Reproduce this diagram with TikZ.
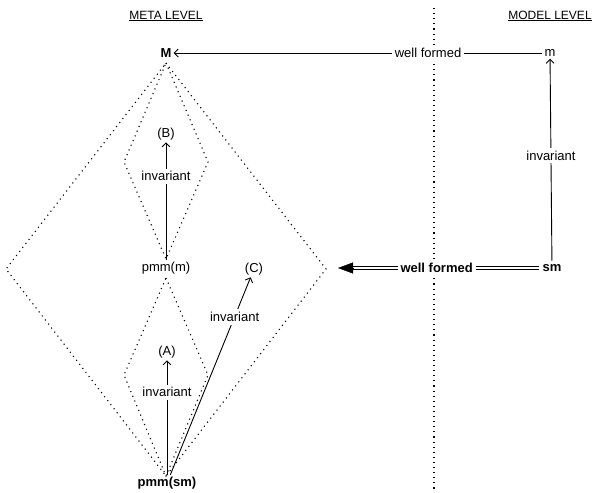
\documentclass[tikz,border=0pt]{standalone}
\usepackage{fontspec}
\setmainfont{Liberation Sans}
\usetikzlibrary{arrows.meta}
\begin{document}
\begin{tikzpicture}[x=1pt,y=-1pt,
  lbl/.style={font=\fontsize{13}{15}\selectfont, inner sep=2pt},
  ttl/.style={font=\fontsize{12}{14}\selectfont, inner sep=0pt},
  edgelbl/.style={lbl, fill=white, inner sep=3pt},
  dotline/.style={line width=1.1pt, dash pattern=on 1.1pt off 4pt},
  conn/.style={line width=0.9pt, -{Straight Barb[length=4pt,width=8pt]}},
  dbl/.style={double, double distance=2.2pt, line width=0.8pt},
  bigtip/.style={-{Triangle[length=15pt,width=11pt]}}]
\useasboundingbox (0,0) rectangle (595,493);
% titles
\node[ttl] (t1) at (166,16) {\underline{META LEVEL}};
\node[ttl] (t2) at (550,16) {\underline{MODEL LEVEL}};
% separator
\coordinate (sepTop) at (434,8);
\coordinate (sepBot) at (434,493);
\draw[dotline] (sepTop) -- (sepBot);
% diamonds
\coordinate (Dt) at (166,63);
\coordinate (Db) at (166,476);
\draw[dotline] (Dt) -- (326,269) -- (Db) -- (6,269) -- cycle;
\draw[dotline] (Dt) -- (208,162) -- (166,259) -- (124,162) -- cycle;
\draw[dotline] (166,278) -- (208,375) -- (Db) -- (124,375) -- cycle;
% nodes
\node[lbl] (M) at (166,53) {\bfseries M};
\node[lbl] (m) at (550,53) {m};
\node[lbl, inner sep=3.5pt] (sm) at (552,268) {\bfseries sm};
\node[lbl] (pmmm) at (166,268) {pmm(m)};
\node[lbl] (pmmsm) at (167,483) {\bfseries pmm(sm)};
\node[lbl] (A) at (167,352) {(A)};
\node[lbl] (B) at (166,134) {(B)};
\node[lbl] (C) at (254,269) {(C)};
\coordinate (shaftEnd) at (353,268);
\coordinate (tip) at (338,268);
% connectors
\draw[conn] (m) -- (M) node[edgelbl, pos=0.31] {well formed};
\draw[conn] (sm) -- (m) node[edgelbl, pos=0.52] {invariant};
\draw[conn] (pmmm) -- (B) node[edgelbl, pos=0.71] {invariant};
\draw[conn] (pmmsm) -- (A) node[edgelbl, pos=0.72] {invariant};
\draw[conn] (pmmsm) -- (C) node[edgelbl, pos=0.8] {invariant};
\draw[dbl] (sm) -- (shaftEnd) node[edgelbl, pos=0.55] {\bfseries well formed};
\draw[bigtip] (shaftEnd) -- (tip);
\end{tikzpicture}
\end{document}
